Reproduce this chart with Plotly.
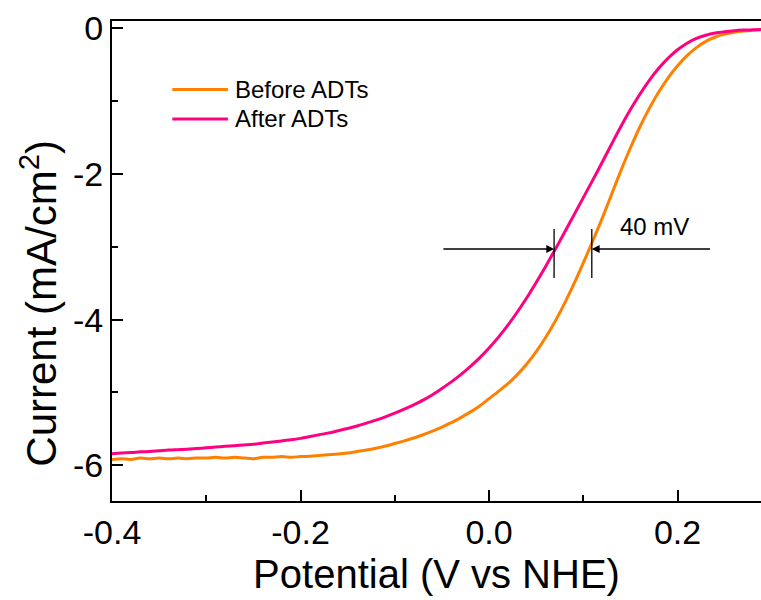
import plotly.graph_objects as go

# Linear sweep voltammetry of the electrode before / after ADTs
potential = [
    -0.40, -0.39, -0.38, -0.37, -0.36, -0.35, -0.34, -0.33, -0.32, -0.31,
    -0.30, -0.29, -0.28, -0.27, -0.26, -0.25, -0.24, -0.23, -0.22, -0.21,
    -0.20, -0.19, -0.18, -0.17, -0.16, -0.15, -0.14, -0.13, -0.12, -0.11,
    -0.10, -0.09, -0.08, -0.07, -0.06, -0.05, -0.04, -0.03, -0.02, -0.01,
    0.00, 0.01, 0.02, 0.03, 0.04, 0.05, 0.06, 0.07, 0.08, 0.09,
    0.10, 0.11, 0.12, 0.13, 0.14, 0.15, 0.16, 0.17, 0.18, 0.19,
    0.20, 0.21, 0.22, 0.23, 0.24, 0.25, 0.26, 0.27, 0.28, 0.29,
]

current_before = [
    -5.92, -5.91, -5.92, -5.90, -5.91, -5.90, -5.91, -5.90, -5.91, -5.90,
    -5.90, -5.89, -5.90, -5.89, -5.90, -5.91, -5.89, -5.89, -5.88, -5.89,
    -5.88, -5.875, -5.865, -5.855, -5.845, -5.83, -5.81, -5.79, -5.765, -5.735,
    -5.70, -5.665, -5.625, -5.58, -5.53, -5.475, -5.415, -5.345, -5.27, -5.185,
    -5.085, -4.985, -4.88, -4.755, -4.61, -4.44, -4.245, -4.025, -3.78, -3.51,
    -3.22, -2.92, -2.61, -2.28, -1.95, -1.64, -1.355, -1.10, -0.875, -0.68,
    -0.515, -0.375, -0.265, -0.18, -0.12, -0.08, -0.055, -0.038, -0.027, -0.02,
]

current_after = [
    -5.84, -5.83, -5.825, -5.815, -5.81, -5.80, -5.79, -5.785, -5.78, -5.77,
    -5.76, -5.75, -5.74, -5.73, -5.72, -5.71, -5.695, -5.68, -5.665, -5.65,
    -5.63, -5.605, -5.58, -5.555, -5.525, -5.495, -5.46, -5.42, -5.38, -5.335,
    -5.285, -5.23, -5.17, -5.105, -5.03, -4.945, -4.855, -4.755, -4.645, -4.525,
    -4.39, -4.24, -4.075, -3.895, -3.70, -3.49, -3.27, -3.04, -2.805, -2.565,
    -2.325, -2.085, -1.84, -1.59, -1.345, -1.115, -0.905, -0.715, -0.55, -0.41,
    -0.295, -0.205, -0.14, -0.095, -0.065, -0.047, -0.034, -0.025, -0.019, -0.015,
]

series_names = ["Before ADTs", "After ADTs"]
series_colors = ["#ff8000", "#ff0080"]

x_tick_vals = [-0.4, -0.2, 0.0, 0.2]
x_tick_text = ["-0.4", "-0.2", "0.0", "0.2"]
y_tick_vals = [0, -2, -4, -6]
y_tick_text = ["0", "-2", "-4", "-6"]

# Onset comparison at about -3 mA/cm2
ref_current = -3.03
after_cross = 0.069
shift_mv = 40
before_cross = after_cross + shift_mv / 1000.0

FONT = "Arial, Liberation Sans, Helvetica, sans-serif"

fig = go.Figure()
for name, ys, col in zip(series_names, [current_before, current_after], series_colors):
    fig.add_trace(go.Scatter(
        x=potential, y=ys, mode="lines", name=name,
        line=dict(color=col, width=3, shape="spline", smoothing=0.8),
        showlegend=False,
    ))

# Legend with long line samples
legend_y = [-0.84, -1.245]
for name, col, ly in zip(series_names, series_colors, legend_y):
    fig.add_shape(type="line", xref="x", yref="y",
                  x0=-0.336, x1=-0.277, y0=ly, y1=ly,
                  line=dict(color=col, width=3))
    fig.add_annotation(x=-0.272, y=ly, xref="x", yref="y", text=name,
                       showarrow=False, xanchor="left", yanchor="middle",
                       font=dict(family=FONT, size=24, color="black"))

# Shift marker: vertical bars and inward arrows
for xc in (after_cross, before_cross):
    fig.add_shape(type="line", xref="x", yref="y",
                  x0=xc, x1=xc, y0=-2.755, y1=-3.43,
                  line=dict(color="black", width=1.3))
fig.add_annotation(x=after_cross, y=ref_current, ax=-0.05, ay=ref_current,
                   xref="x", yref="y", axref="x", ayref="y", text="",
                   showarrow=True, arrowhead=2, arrowsize=1.2, arrowwidth=1.3,
                   arrowcolor="black", standoff=0, startstandoff=0)
fig.add_annotation(x=before_cross, y=ref_current, ax=0.236, ay=ref_current,
                   xref="x", yref="y", axref="x", ayref="y", text="",
                   showarrow=True, arrowhead=2, arrowsize=1.2, arrowwidth=1.3,
                   arrowcolor="black", standoff=0, startstandoff=0)
fig.add_annotation(x=0.175, y=-2.72, xref="x", yref="y",
                   text=f"{shift_mv} mV", showarrow=False,
                   font=dict(family=FONT, size=24, color="black"))

# Y-axis title
fig.add_annotation(x=-0.113, y=0.4125, xref="paper", yref="paper",
                   text="Current (mA/cm<sup>2</sup>)", textangle=-90,
                   showarrow=False, xanchor="center", yanchor="middle",
                   font=dict(family=FONT, size=42, color="black"))

fig.update_layout(
    width=761, height=600,
    margin=dict(l=112, r=0, t=21, b=99),
    paper_bgcolor="white", plot_bgcolor="white",
    font=dict(family=FONT, color="black"),
    xaxis=dict(
        range=[-0.4, 0.2885], tickmode="array",
        tickvals=x_tick_vals, ticktext=x_tick_text,
        ticks="inside", ticklen=11, tickwidth=1.5,
        tickcolor="black", showline=True, linecolor="black", linewidth=2,
        mirror=True, showgrid=False, zeroline=False,
        tickfont=dict(family=FONT, size=34, color="black"),
        minor=dict(ticks="inside", ticklen=6, tickwidth=1.5, dtick=0.1,
                   tick0=-0.4, tickcolor="black", showgrid=False),
        title=dict(text="Potential (V vs NHE)",
                   font=dict(family=FONT, size=40, color="black"), standoff=10),
    ),
    yaxis=dict(
        range=[-6.49, 0.10], tickmode="array",
        tickvals=y_tick_vals, ticktext=y_tick_text,
        ticks="inside", ticklen=11, tickwidth=1.5, tickcolor="black",
        showline=True, linecolor="black", linewidth=2, mirror=False,
        showgrid=False, zeroline=False,
        tickfont=dict(family=FONT, size=34, color="black"),
        minor=dict(ticks="inside", ticklen=6, tickwidth=1.5, dtick=1,
                   tick0=0, tickcolor="black", showgrid=False),
    ),
)

fig.write_html("out.html")
